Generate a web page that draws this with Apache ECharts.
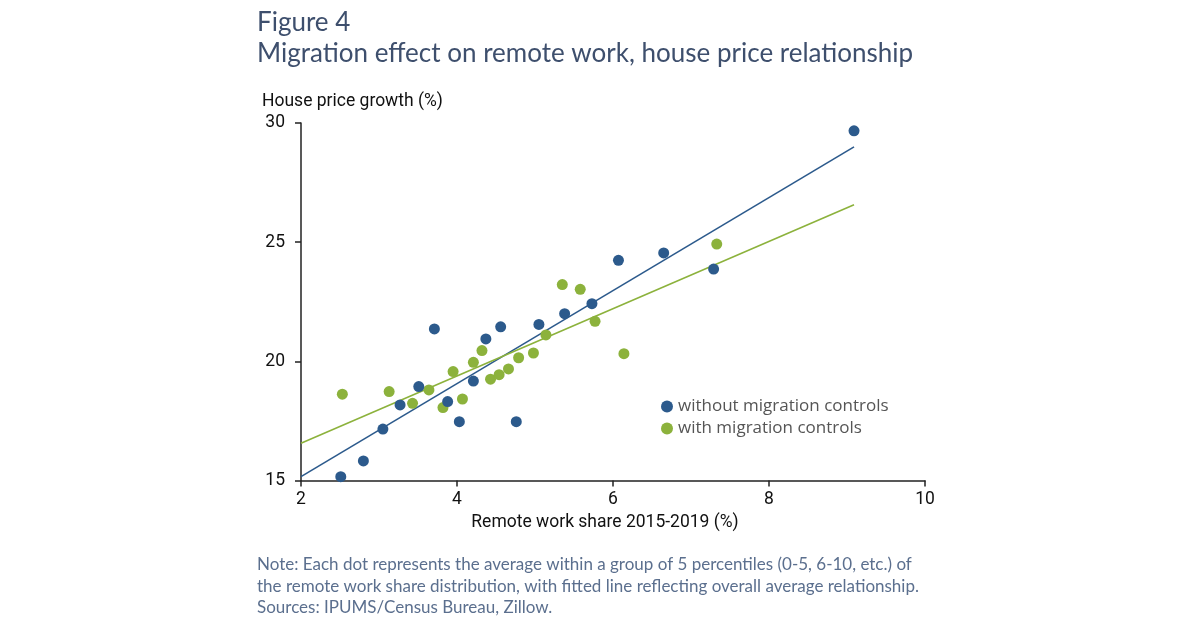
<!DOCTYPE html>
<html>
<head>
<meta charset="utf-8">
<script src="https://cdn.jsdelivr.net/npm/echarts@6/dist/echarts.min.js"></script>
<style>
  html, body { margin: 0; padding: 0; background: #fff; }
  #chart { width: 1200px; height: 628px; }
</style>
</head>
<body>
<div id="chart"></div>
<script>
// points without migration controls: [remote work share, house price growth]
const withoutControls = [
  [2.51, 15.16], [2.80, 15.82], [3.05, 17.16], [3.27, 18.17], [3.51, 18.94],
  [3.71, 21.36], [3.88, 18.31], [4.03, 17.47], [4.21, 19.17], [4.37, 20.94],
  [4.56, 21.45], [4.76, 17.47], [5.05, 21.55], [5.38, 22.00], [5.73, 22.42],
  [6.07, 24.24], [6.65, 24.55], [7.29, 23.87], [9.09, 29.67]
]
// points with migration controls
const withControls = [
  [2.53, 18.62], [3.13, 18.73], [3.43, 18.24], [3.64, 18.80], [3.82, 18.06],
  [3.95, 19.57], [4.07, 18.42], [4.21, 19.96], [4.32, 20.45], [4.43, 19.25],
  [4.54, 19.44], [4.66, 19.68], [4.79, 20.15], [4.98, 20.35], [5.14, 21.11],
  [5.35, 23.22], [5.58, 23.02], [5.77, 21.68], [6.14, 20.32], [7.33, 24.92]
]
// fitted lines (ends)
const fitWithout = [[2, 15.16], [9.09, 29.0]]
const fitWith = [[2, 16.56], [9.09, 26.57]]

const xTicks = [2, 4, 6, 8, 10]
const yTicks = [15, 20, 25, 30]

const blue = '#2c5a8c'
const green = '#8cb23c'
const titleColor = '#3e4f6d'
const noteColor = '#5b6f8e'

const chart = echarts.init(document.getElementById('chart'))
chart.setOption({
  animation: false,
  backgroundColor: '#fff',
  title: [
    {
      text: 'Figure 4',
      left: 252, top: 5,
      textStyle: { fontFamily: 'Lato', fontSize: 26, fontWeight: 'normal', color: titleColor }
    },
    {
      text: 'Migration effect on remote work, house price relationship',
      left: 252, top: 36,
      textStyle: { fontFamily: 'Lato', fontSize: 26, fontWeight: 'normal', color: titleColor }
    },
    {
      text: 'House price growth (%)',
      left: 257, top: 88,
      textStyle: { fontFamily: 'Roboto', fontSize: 17.5, fontWeight: 'normal', color: '#111' }
    },
    {
      text: 'Note: Each dot represents the average within a group of 5 percentiles (0-5, 6-10, etc.) of\n' +
        'the remote work share distribution, with fitted line reflecting overall average relationship.\n' +
        'Sources: IPUMS/Census Bureau, Zillow.',
      left: 252, top: 549,
      textStyle: { fontFamily: 'Lato', fontSize: 17, fontWeight: 'normal', color: noteColor, lineHeight: 21.5 }
    }
  ],
  legend: {
    orient: 'vertical',
    left: 656, top: 393,
    itemWidth: 12, itemHeight: 12, itemGap: 5,
    icon: 'circle',
    data: ['without migration controls', 'with migration controls'],
    textStyle: { fontFamily: 'Open Sans', fontSize: 17, color: '#555' }
  },
  grid: { left: 301, right: 275, top: 123, bottom: 147.5 },
  xAxis: {
    type: 'value',
    min: 2, max: 10, interval: 2,
    name: 'Remote work share 2015-2019 (%)',
    nameLocation: 'middle', nameGap: 33,
    nameTextStyle: { fontFamily: 'Roboto', fontSize: 17.5, color: '#111', padding: [0, 16, 0, 0] },
    axisLine: { show: true, onZero: false, lineStyle: { color: '#222', width: 1.5 } },
    axisTick: { show: true, length: 6, lineStyle: { color: '#222', width: 1.5 } },
    axisLabel: {
      fontFamily: 'Roboto', fontSize: 17.5, color: '#111', margin: 10,
      formatter: v => xTicks.includes(v) ? String(v) : ''
    },
    splitLine: { show: false }
  },
  yAxis: {
    type: 'value',
    min: 15, max: 30, interval: 5,
    axisLine: { show: true, lineStyle: { color: '#222', width: 1.5 } },
    axisTick: { show: true, length: 6, lineStyle: { color: '#222', width: 1.5 } },
    axisLabel: {
      fontFamily: 'Roboto', fontSize: 17.5, color: '#111', margin: 16,
      formatter: v => yTicks.includes(v) ? String(v) : ''
    },
    splitLine: { show: false }
  },
  series: [
    {
      name: 'fit without',
      type: 'line',
      data: fitWithout,
      symbol: 'none',
      lineStyle: { color: blue, width: 1.6 },
      z: 1
    },
    {
      name: 'fit with',
      type: 'line',
      data: fitWith,
      symbol: 'none',
      lineStyle: { color: green, width: 1.6 },
      z: 1
    },
    {
      name: 'without migration controls',
      type: 'scatter',
      data: withoutControls,
      symbolSize: 11,
      itemStyle: { color: blue, opacity: 1 },
      z: 3
    },
    {
      name: 'with migration controls',
      type: 'scatter',
      data: withControls,
      symbolSize: 11,
      itemStyle: { color: green, opacity: 1 },
      z: 2
    }
  ]
})
</script>
</body>
</html>
